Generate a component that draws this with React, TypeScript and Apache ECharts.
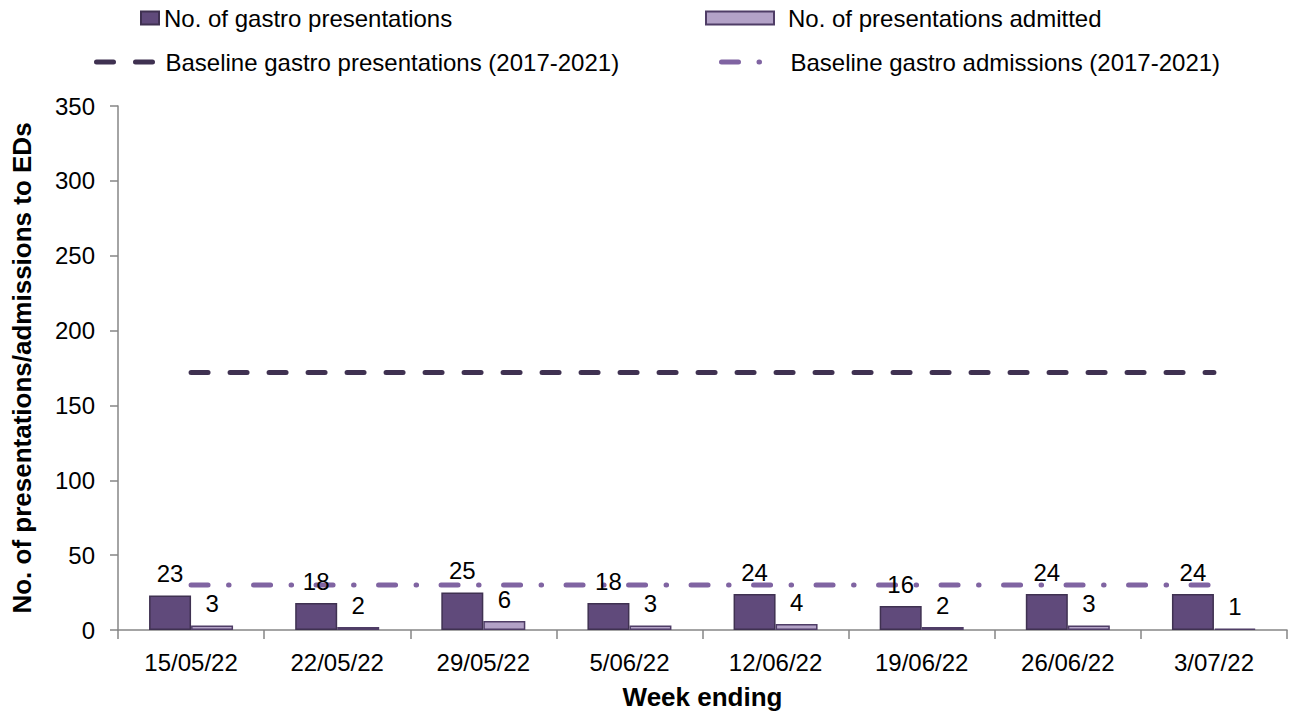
import React, { useEffect, useRef } from "react";
import * as echarts from "echarts";

const weeks = ["15/05/22", "22/05/22", "29/05/22", "5/06/22", "12/06/22", "19/06/22", "26/06/22", "3/07/22"];
const presentations = [23, 18, 25, 18, 24, 16, 24, 24];
const admitted = [3, 2, 6, 3, 4, 2, 3, 1];
const baselinePresentations = [172, 172, 172, 172, 172, 172, 172, 172];
const baselineAdmissions = [30, 30, 30, 30, 30, 30, 30, 30];
const yTicks = { min: 0, max: 350, interval: 50 };

const NAMES = [
  "No. of gastro presentations",
  "No. of presentations admitted",
  "Baseline gastro presentations (2017-2021)",
  "Baseline gastro admissions (2017-2021)",
];

const FONT = "'Liberation Sans', Arial, sans-serif";
const FS = 24;
const TITLE_FS = 26;

export default function App() {
  const ref = useRef<HTMLDivElement>(null);
  useEffect(() => {
    if (!ref.current) return;
    const chart = echarts.init(ref.current, null, { renderer: "svg" });
    const legendBase = {
      orient: "horizontal",
      padding: 0,
      itemGap: 0,
      selectedMode: false,
    };
    const hiddenSymbol = { color: "rgba(0,0,0,0)", borderColor: "rgba(0,0,0,0)", borderWidth: 0 };
    chart.setOption({
      animation: false,
      textStyle: { fontFamily: FONT, color: "#000" },
      legend: [
        {
          ...legendBase,
          left: 140,
          top: 6,
          itemWidth: 18,
          itemHeight: 13,
          icon: "rect",
          data: [NAMES[0]],
          textStyle: { fontSize: FS, fontFamily: FONT, color: "#000" },
        },
        {
          ...legendBase,
          left: 705,
          top: 6,
          itemWidth: 68,
          itemHeight: 13,
          icon: "rect",
          data: [NAMES[1]],
          textStyle: { fontSize: FS, fontFamily: FONT, color: "#000", padding: [0, 0, 0, 9] },
        },
        {
          ...legendBase,
          left: 94,
          top: 50,
          itemWidth: 57,
          itemHeight: 13,
          data: [NAMES[2]],
          lineStyle: { width: 5 },
          itemStyle: hiddenSymbol,
          textStyle: { fontSize: FS, fontFamily: FONT, color: "#000", padding: [0, 0, 0, 7] },
        },
        {
          ...legendBase,
          left: 719,
          top: 50,
          itemWidth: 41,
          itemHeight: 13,
          data: [NAMES[3]],
          lineStyle: { width: 5 },
          itemStyle: hiddenSymbol,
          textStyle: { fontSize: FS, fontFamily: FONT, color: "#000", padding: [0, 0, 0, 23] },
        },
      ],
      grid: { left: 118, right: 3, top: 106, bottom: 84 },
      xAxis: {
        type: "category",
        data: weeks,
        boundaryGap: true,
        name: "Week ending",
        nameLocation: "middle",
        nameGap: 54,
        nameTextStyle: { fontSize: TITLE_FS, fontWeight: "bold", fontFamily: FONT, color: "#000" },
        axisLine: { lineStyle: { color: "#868686", width: 1.5 } },
        axisTick: { show: true, length: 9, lineStyle: { color: "#868686", width: 1.5 } },
        axisLabel: { interval: 0, fontSize: FS, color: "#000", margin: 20, fontFamily: FONT },
        splitLine: { show: false },
      },
      yAxis: {
        type: "value",
        min: yTicks.min,
        max: yTicks.max,
        interval: yTicks.interval,
        name: "No. of presentations/admissions to EDs",
        nameLocation: "middle",
        nameGap: 83,
        nameTextStyle: { fontSize: TITLE_FS, fontWeight: "bold", fontFamily: FONT, color: "#000" },
        axisLine: { show: true, lineStyle: { color: "#868686", width: 1.5 } },
        axisTick: { show: true, length: 8, lineStyle: { color: "#868686", width: 1.5 } },
        axisLabel: { fontSize: FS, color: "#000", margin: 23, fontFamily: FONT },
        splitLine: { show: false },
      },
      series: [
        {
          name: NAMES[0],
          type: "bar",
          data: presentations,
          barWidth: 42,
          barGap: "0%",
          itemStyle: { color: "#604a7b", borderColor: "#3f3151", borderWidth: 1.5 },
          label: { show: true, position: "top", distance: 10, fontSize: FS, color: "#000", fontFamily: FONT },
          z: 2,
        },
        {
          name: NAMES[1],
          type: "bar",
          data: admitted,
          barWidth: 42,
          barGap: "0%",
          itemStyle: { color: "#b3a2c7", borderColor: "#4f3d66", borderWidth: 1.5 },
          label: { show: true, position: "top", distance: 10, fontSize: FS, color: "#000", fontFamily: FONT },
          z: 2,
        },
        {
          name: NAMES[2],
          type: "line",
          data: baselinePresentations,
          symbol: "none",
          lineStyle: { color: "#3f3151", width: 5, type: [17, 22], cap: "round" },
          itemStyle: { color: "#3f3151" },
          z: 3,
        },
        {
          name: NAMES[3],
          type: "line",
          data: baselineAdmissions,
          symbol: "none",
          lineStyle: { color: "#8064a2", width: 5, type: [17, 20.5, 0.5, 24.5], cap: "round" },
          itemStyle: { color: "#8064a2" },
          z: 1,
        },
      ],
    });
    return () => chart.dispose();
  }, []);
  return <div ref={ref} style={{ width: 1290, height: 715, position: "absolute", left: 0, top: 0 }} />;
}
